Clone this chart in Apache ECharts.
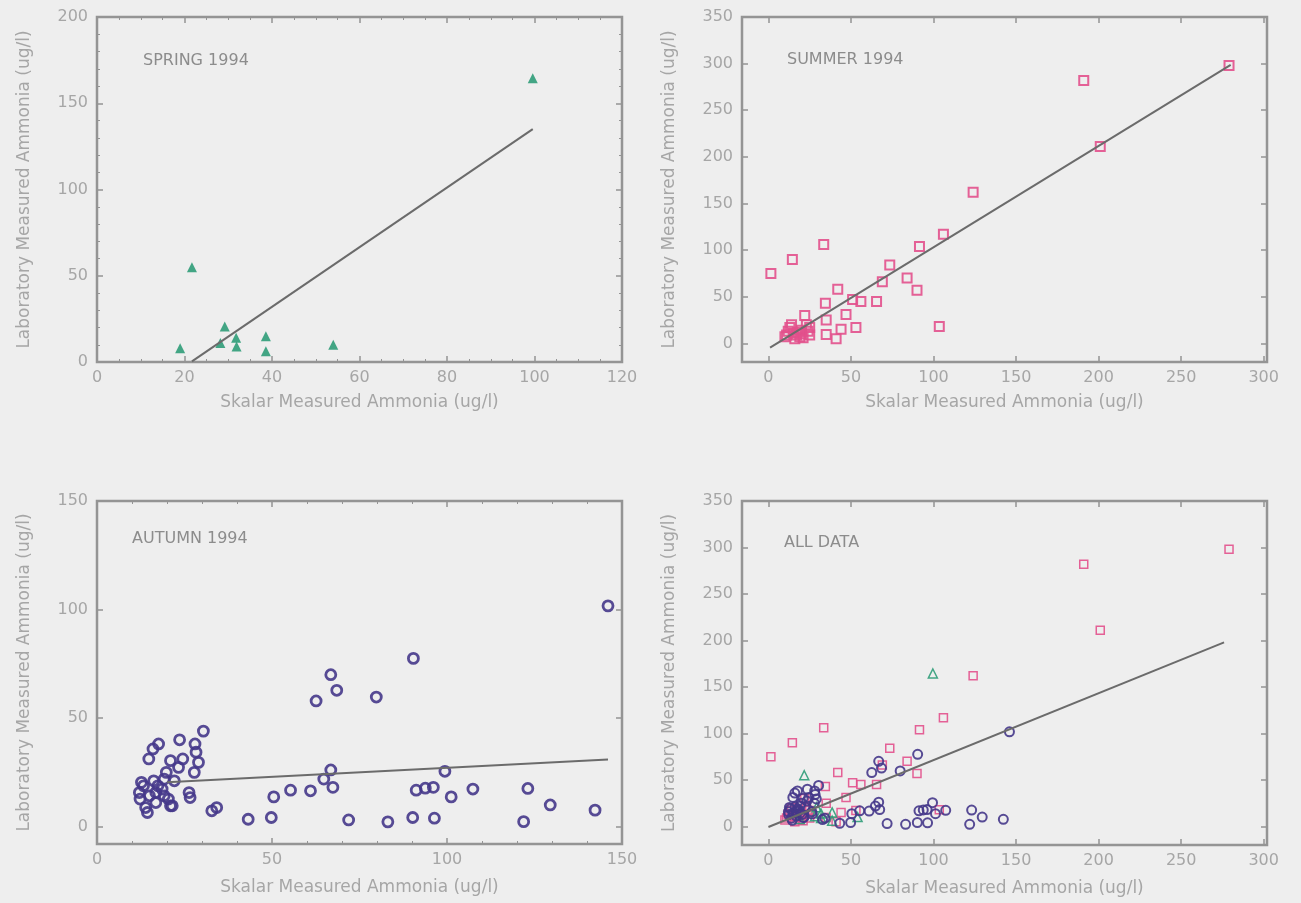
<!DOCTYPE html>
<html>
<head>
<meta charset="utf-8">
<script src="https://cdn.jsdelivr.net/npm/echarts@6/dist/echarts.min.js"></script>
<style>
html,body{margin:0;padding:0;background:#eeeeee;}
#chart{width:1301px;height:903px;}
</style>
</head>
<body>
<div id="chart"></div>
<script>
// ---------- DATA ----------
const panelLabels = ['SPRING 1994', 'SUMMER 1994', 'AUTUMN 1994', 'ALL DATA'];
const xTitle = 'Skalar Measured Ammonia (ug/l)';
const yTitle = 'Laboratory Measured Ammonia (ug/l)';

const springXTicks = [0, 20, 40, 60, 80, 100, 120];
const springYTicks = [0, 50, 100, 150, 200];
const summerXTicks = [0, 50, 100, 150, 200, 250, 300];
const summerYTicks = [0, 50, 100, 150, 200, 250, 300, 350];
const autumnXTicks = [0, 50, 100, 150];
const autumnYTicks = [0, 50, 100, 150];

const springPoints = [
  [19, 8], [21.7, 55], [29.2, 20.6], [28.2, 11], [31.8, 14], [31.9, 9],
  [38.6, 15], [38.6, 6.2], [54, 10], [99.6, 164.5]
];

const summerPoints = [
  [1.5, 75], [14.5, 90], [33.5, 106], [42, 58], [34.5, 43], [35, 25], [47, 31],
  [44, 15], [35, 9.5], [41, 5], [53, 17], [51, 47], [56, 45], [65.5, 45],
  [69, 66], [73.5, 84], [84, 70], [90, 57], [91.5, 104], [106, 117], [103.5, 18],
  [124, 162], [191, 282], [201, 211], [279, 298],
  [22, 30], [14, 20], [11, 9], [17, 9], [20, 14], [25, 17], [25, 9], [16, 5],
  [21, 6], [12, 13], [13, 17], [18, 12], [23, 20], [19, 7], [15, 11], [24, 13],
  [10, 7], [20, 10]
];

const autumnPoints = [
  [146, 101.7], [90.4, 77.5], [66.8, 70], [68.5, 62.8], [62.6, 57.9], [79.8, 59.7],
  [30.4, 44], [23.6, 40], [17.6, 38.1], [16, 35.8], [14.8, 31.2], [28, 38.1],
  [28.3, 34.3], [29, 29.6], [21, 30.4], [24.5, 31.2], [27.8, 25], [23.3, 27.3],
  [19.8, 25], [19.2, 21.9], [12.7, 20.4], [17.4, 18.8], [22.1, 21.1], [12.3, 12.7],
  [13.9, 8.8], [14.4, 6.5], [16.8, 11.1], [19.2, 14.2], [21, 9.6], [16.8, 15.7],
  [18.6, 17.3], [26.3, 15.7], [26.6, 13.4], [32.8, 7.3], [34.2, 8.8], [43.2, 3.4],
  [49.8, 4.2], [50.5, 13.7], [55.3, 16.8], [61, 16.5], [64.8, 21.9], [66.8, 26.1],
  [67.4, 18.1], [71.9, 3.1], [83.1, 2.2], [90.2, 4.2], [91.2, 16.8], [93.8, 17.7],
  [96.1, 18.1], [96.4, 3.9], [99.4, 25.5], [101.2, 13.7], [107.4, 17.3], [121.9, 2.3],
  [123.1, 17.6], [129.5, 10], [142.3, 7.6],
  [12.1, 15.7], [13.3, 18.8], [15, 14.2], [16.2, 21.1], [20.4, 12.7], [21.5, 9.6]
];

const springFit = [[21.7, 0.4], [99.6, 135]];
const summerFit = [[1, -4.6], [280, 298.6]];
const autumnFit = [[20, 20.4], [146, 30.9]];
const allFit = [[0, -0.6], [276, 198]];

// ---------- STYLE / LAYOUT ----------
const FONT = 'DejaVu Sans';
const GREY_BOX = '#949494';
const GREY_TXT = '#a6a6a6';
const GREEN = '#2f9c78';
const PINK = '#e2508c';
const PURPLE = '#45378a';
const LINE = '#6b6b6b';

const grids = [
  {left: 97, top: 17, width: 525, height: 345},
  {left: 742, top: 17, width: 525, height: 345},
  {left: 97, top: 501, width: 525, height: 343},
  {left: 742, top: 501, width: 525, height: 344}
];
const axisDefs = [
  {x: {min: 0, max: 120, ticks: springXTicks, minor: 4}, y: {min: 0, max: 200, ticks: springYTicks, minor: 5}, xGap: 32},
  {x: {min: -16, max: 302, ticks: summerXTicks}, y: {min: -20, max: 350, ticks: summerYTicks}, xGap: 32},
  {x: {min: 0, max: 150, ticks: autumnXTicks, minor: 5}, y: {min: -8, max: 150, ticks: autumnYTicks}, xGap: 35},
  {x: {min: -16, max: 302, ticks: summerXTicks}, y: {min: -20, max: 350, ticks: summerYTicks}, xGap: 35}
];

function makeAxis(gi, def, pos, main, nameGap) {
  const ax = {
    gridIndex: gi, type: 'value', position: pos,
    min: def.min, max: def.max,
    axisLine: {show: false, onZero: false},
    splitLine: {show: false},
    axisTick: {show: true, inside: true, length: 6, lineStyle: {color: GREY_BOX, width: 1.5}, customValues: def.ticks},
    axisLabel: main ? {
      show: true, customValues: def.ticks, color: GREY_TXT, fontSize: 16, fontFamily: FONT,
      margin: (pos === 'bottom') ? 8 : 9, showMinLabel: true, showMaxLabel: true
    } : {show: false}
  };
  if (def.minor && def.min % (def.ticks[1] - def.ticks[0]) === 0) {
    delete ax.axisTick.customValues;
    delete ax.axisLabel.customValues;
    ax.interval = def.ticks[1] - def.ticks[0];
    ax.minorTick = {show: true, splitNumber: def.minor, length: 3, lineStyle: {color: GREY_BOX, width: 1}};
  }
  if (main) {
    ax.name = (pos === 'bottom') ? xTitle : yTitle;
    ax.nameLocation = 'middle';
    ax.nameGap = nameGap;
    ax.nameTextStyle = {color: GREY_TXT, fontSize: 17, fontFamily: FONT};
  }
  return ax;
}

const xAxes = [], yAxes = [];
axisDefs.forEach((d, gi) => {
  xAxes.push(makeAxis(gi, d.x, 'bottom', true, d.xGap));
  xAxes.push(makeAxis(gi, d.x, 'top', false));
  yAxes.push(makeAxis(gi, d.y, 'left', true, 64));
  yAxes.push(makeAxis(gi, d.y, 'right', false));
});

function scatter(gi, data, symbol, size, color, filled, bw) {
  return {
    type: 'scatter', xAxisIndex: gi * 2, yAxisIndex: gi * 2, data: data,
    symbol: symbol, symbolSize: size, silent: true,
    itemStyle: filled ? {color: color, opacity: 0.9} :
      {color: 'rgba(0,0,0,0)', borderColor: color, borderWidth: bw, opacity: 0.9}
  };
}
function fit(gi, data) {
  return {
    type: 'line', xAxisIndex: gi * 2, yAxisIndex: gi * 2, data: data,
    showSymbol: false, silent: true, lineStyle: {color: LINE, width: 2}, z: 5
  };
}

const series = [
  scatter(0, springPoints, 'triangle', [10, 10], GREEN, true),
  fit(0, springFit),
  scatter(1, summerPoints, 'rect', [9, 9], PINK, false, 2),
  fit(1, summerFit),
  scatter(2, autumnPoints, 'circle', 10, PURPLE, false, 2.8),
  fit(2, autumnFit),
  scatter(3, summerPoints, 'rect', [8, 8], PINK, false, 1.5),
  scatter(3, springPoints, 'triangle', [9, 9], GREEN, false, 1.5),
  scatter(3, autumnPoints, 'circle', 9, PURPLE, false, 2),
  fit(3, allFit)
];

const labelPos = [[143, 63], [787, 62], [132, 541], [784, 545]];
const graphic = panelLabels.map((t, i) => ({
  type: 'text', left: labelPos[i][0], top: labelPos[i][1] - 10,
  style: {text: t, fill: '#8c8c8c', font: '16px "' + FONT + '"'}
}));

const chart = echarts.init(document.getElementById('chart'), null, {renderer: 'canvas'});
chart.setOption({
  backgroundColor: '#eeeeee',
  animation: false,
  grid: grids.map(g => Object.assign({show: true, borderColor: GREY_BOX, borderWidth: 2.5, backgroundColor: 'transparent'}, g)),
  xAxis: xAxes,
  yAxis: yAxes,
  series: series,
  graphic: graphic
});
</script>
</body>
</html>
